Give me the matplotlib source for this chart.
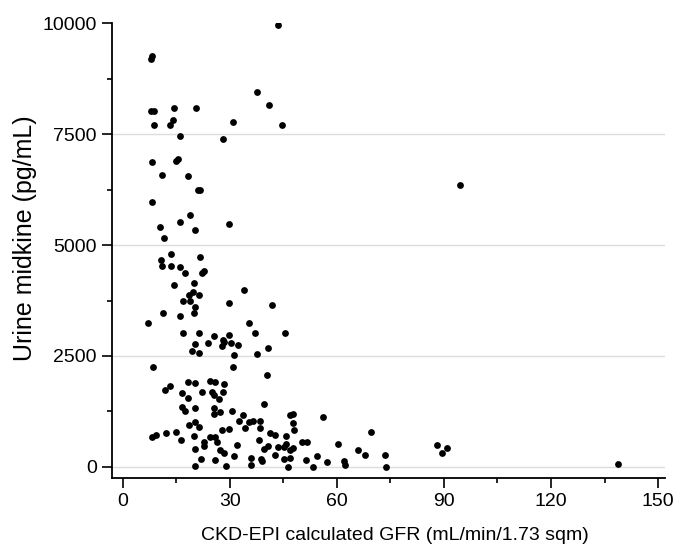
import matplotlib
matplotlib.use("Agg")
import matplotlib.pyplot as plt
from matplotlib.ticker import MultipleLocator

plt.rcParams['font.family'] = ['Liberation Sans', 'DejaVu Sans']

gfr = [
    43.4, 7.8, 8.2, 37.7, 41.0, 7.9, 8.9, 14.5, 20.5, 8.8, 13.3, 14.1, 31.0, 44.6, 16.1, 28.1,
    8.3, 15.0, 15.6, 11.1, 18.4, 21.1, 21.7, 8.3, 18.9, 16.2, 29.8, 10.4, 20.3, 11.5, 94.5,
    13.4, 21.7, 10.6, 10.9, 13.4, 16.2, 17.4, 22.1, 22.9, 14.5, 19.9, 34.1, 18.6, 19.6, 21.4,
    16.9, 18.8, 29.9, 41.8, 20.2, 11.3, 20.0, 16.1, 7.1, 35.4, 17.0, 21.5, 37.2, 45.4, 25.7,
    29.7, 23.9, 28.1, 27.9, 28.5, 30.3, 32.4, 20.2, 40.6, 19.3, 21.4, 37.5, 31.3, 8.6, 31.0, 40.3,
    18.2, 20.4, 24.6, 25.9, 28.5, 13.2, 11.8, 22.1, 16.7, 25.0, 25.6, 26.9, 28.0, 18.4, 16.6,
    17.5, 20.2, 25.5, 39.7, 25.7, 27.4, 30.6, 33.6, 46.9, 47.6, 56.2, 32.5, 35.3, 36.6, 38.5,
    47.6, 18.6, 20.3, 21.3, 34.3, 38.5, 29.7, 27.7, 48.1, 8.2, 9.3, 12.1, 15.0, 16.4, 20.1,
    24.6, 25.9, 26.4, 22.9, 22.9, 41.3, 42.7, 45.8, 38.2, 50.1, 51.7, 60.3, 32.0, 40.8, 39.7,
    43.4, 45.2, 45.8, 46.9, 47.8, 20.2, 27.4, 28.5, 31.3, 42.8, 54.4, 22.0, 26.0, 35.9, 36.0,
    38.8, 38.9, 45.2, 47.0, 51.3, 57.3, 62.0, 62.3, 20.3, 29.0, 46.4, 53.3, 69.7, 88.2, 90.9,
    89.6, 65.8, 68.0, 73.5, 73.7, 138.8,
]
midkine = [
    9950, 9190, 9260, 8440, 8150, 8030, 8030, 8080, 8085, 7700, 7700, 7810, 7770, 7695, 7450, 7380,
    6860, 6900, 6930, 6570, 6560, 6230, 6245, 5960, 5675, 5525, 5470, 5410, 5340, 5165, 6350,
    4800, 4735, 4655, 4535, 4535, 4505, 4375, 4375, 4415, 4105, 4150, 3985, 3880, 3940, 3875,
    3730, 3740, 3695, 3655, 3595, 3470, 3460, 3405, 3235, 3235, 3020, 3010, 3025, 3020, 2945,
    2980, 2790, 2865, 2730, 2815, 2790, 2755, 2765, 2680, 2620, 2575, 2550, 2520, 2245, 2250, 2080,
    1905, 1890, 1945, 1920, 1860, 1830, 1735, 1680, 1660, 1690, 1620, 1540, 1680, 1545, 1360,
    1270, 1320, 1335, 1425, 1195, 1240, 1255, 1170, 1165, 1195, 1125, 1035, 1020, 1045, 1045,
    990, 945, 1005, 900, 880, 870, 855, 825, 825, 670, 720, 775, 780, 610, 705,
    675, 670, 555, 565, 475, 775, 715, 705, 610, 555, 570, 525, 490, 465, 405,
    445, 445, 520, 385, 435, 410, 375, 310, 255, 275, 255, 185, 165, 210, 50,
    175, 130, 185, 210, 160, 115, 140, 45, 25, 15, 0, 0, 795, 490, 420,
    310, 390, 265, 265, 5, 60,
]

x_ticks = [0, 30, 60, 90, 120, 150]
y_ticks = [0, 2500, 5000, 7500, 10000]
x_label = "CKD-EPI calculated GFR (mL/min/1.73 sqm)"
y_label = "Urine midkine (pg/mL)"

fig = plt.figure(figsize=(6.89, 5.5), dpi=100)
ax = fig.add_axes([0.1625, 0.131, 0.803, 0.827])

for yt in y_ticks[:-1]:
    ax.axhline(yt, color='#dcdcdc', lw=1.0, zorder=0)

ax.scatter(gfr, midkine, s=24, c='black', linewidths=0, zorder=3)

ax.set_xlim(-3, 152)
ax.set_ylim(-248, 10000)
ax.set_xticks(x_ticks)
ax.set_yticks(y_ticks)
ax.xaxis.set_minor_locator(MultipleLocator(15))
ax.yaxis.set_minor_locator(MultipleLocator(1250))
ax.tick_params(which='major', direction='out', length=7, width=1.2, labelsize=14, pad=4)
ax.tick_params(which='minor', direction='out', length=3.5, width=1.2)

for s in ['top', 'right']:
    ax.spines[s].set_visible(False)
for s in ['left', 'bottom']:
    ax.spines[s].set_linewidth(1.3)

ax.set_xlabel(x_label, fontsize=14, labelpad=12)
ax.xaxis.label.set_x(0.512)
ax.set_ylabel(y_label, fontsize=18)
ax.yaxis.set_label_coords(-0.136, 0.527)

fig.savefig("out.png", dpi=100)
